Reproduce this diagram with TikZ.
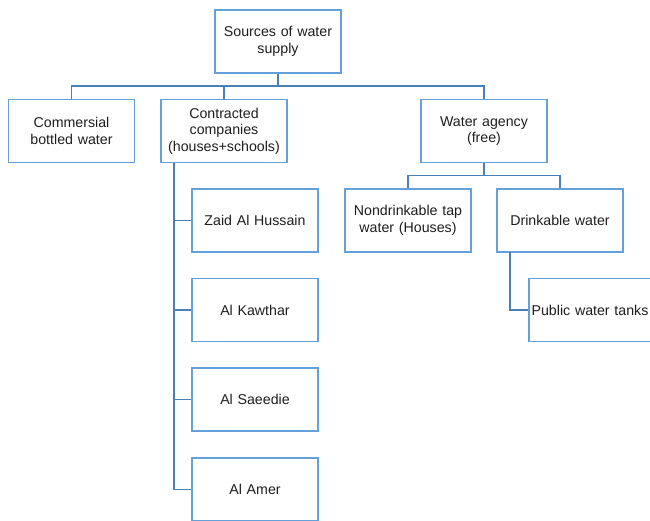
\documentclass[tikz,border=0pt]{standalone}
\usepackage{fontspec}
\setmainfont{Liberation Sans}
\usetikzlibrary{positioning}
\definecolor{edgeblue}{RGB}{100,160,218}
\definecolor{linkblue}{RGB}{72,128,184}
\definecolor{inkgrey}{RGB}{30,30,30}
\tikzstyle{box} = [rectangle, draw=edgeblue, line width=1.3pt, fill=white, minimum width=126pt, minimum height=63pt, text width=122pt, align=center, text=inkgrey, font=\fontsize{14.2}{16.5}\selectfont, inner sep=2pt]
\tikzstyle{link} = [draw=linkblue, line width=1.3pt]

\begin{document}
\begin{tikzpicture}[x=1pt, y=-1pt]

  \useasboundingbox (0,0) rectangle (650,520);
  \clip (0,0) rectangle (650,520);

  \node[box] (root) at (278,41.5) {Sources of water\\supply};

  \node[box] (comm) at (71.5,131) {Commersial\\bottled water};
  \node[box] (contr) at (224,131) {Contracted\\companies\\(houses+schools)};
  \node[box] (agency) at (484,131) {Water agency\\(free)};

  \foreach \y/\n/\t in {220.5/zaid/Zaid Al Hussain,310/kawthar/Al Kawthar,399.5/saeedie/Al Saeedie,489.5/amer/Al Amer}{
    \node[box] (\n) at (255,\y) {\t};
  }

  \node[box] (nondrink) at (408,220.5) {Nondrinkable tap\\water (Houses)};
  \node[box] (drink) at (560,220.5) {Drinkable water};
  \node[box] (tanks) at (592,310) {\hspace*{-4pt}Public water tanks};

  % top level
  \draw[link] (root.south) -- ++(0,13);
  \draw[link] (comm.north) -- ++(0,-13) -| (agency.north);
  \draw[link] (contr.north) -- ++(0,-13);

  % contracted companies
  \coordinate (cspine) at (174,163);
  \foreach \n in {zaid,kawthar,saeedie,amer}{
    \draw[link] (cspine) |- (\n.west);
  }

  % water agency
  \draw[link] (agency.south) -- ++(0,13);
  \draw[link] (nondrink.north) -- ++(0,-13) -| (drink.north);

  \coordinate (dspine) at (510,252);
  \draw[link] (dspine) |- (tanks.west);

\end{tikzpicture}
\end{document}
